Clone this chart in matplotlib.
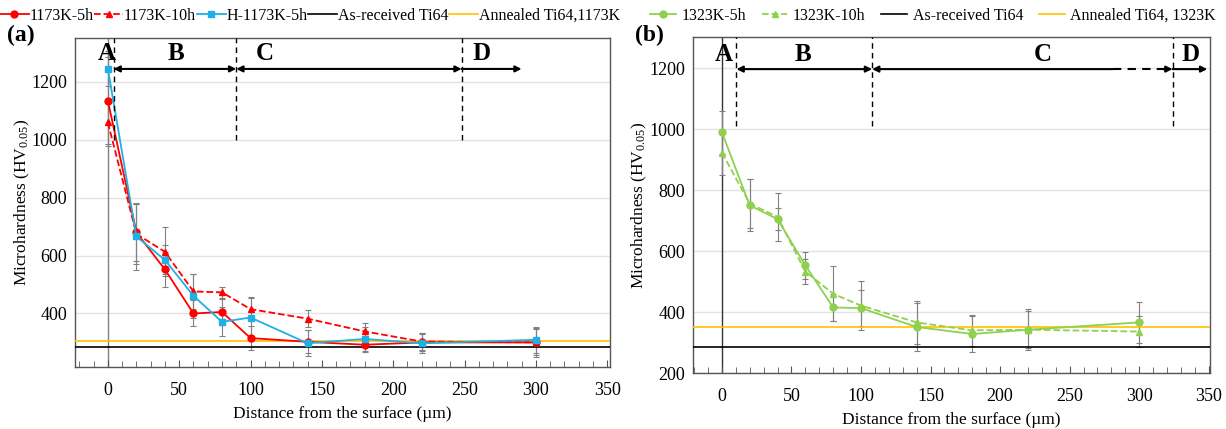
import matplotlib
matplotlib.use("Agg")
import matplotlib.pyplot as plt

plt.rcParams['font.family'] = ['Liberation Serif', 'DejaVu Serif']
plt.rcParams['mathtext.fontset'] = 'custom'
plt.rcParams['mathtext.rm'] = 'Liberation Serif'
plt.rcParams['mathtext.it'] = 'Liberation Serif:italic'

# ---------------- data ----------------
depth = [0, 20, 40, 60, 80, 100, 140, 180, 220, 300]

hv_1173_5h = [1135, 680, 552, 400, 405, 315, 302, 292, 300, 300]
hv_1173_10h = [1060, 675, 613, 476, 473, 415, 382, 338, 303, 300]
hv_h1173_5h = [1246, 666, 585, 461, 371, 386, 297, 312, 297, 309]
err_1173_5h = [150, 100, 60, 45, 45, 40, 40, 25, 30, 45]
err_1173_10h = [80, 105, 85, 60, 20, 40, 30, 30, 30, 50]
err_h1173_5h = [60, 115, 50, 75, 50, 70, 45, 40, 35, 45]

hv_1323_5h = [990, 750, 705, 553, 415, 413, 351, 328, 342, 366]
hv_1323_10h = [923, 756, 712, 533, 460, 421, 366, 340, 342, 336]
err_1323_5h = [70, 85, 35, 45, 45, 60, 80, 60, 68, 67]
err_1323_10h = [75, 80, 80, 40, 90, 80, 70, 50, 60, 50]

as_received = 285
annealed_1173 = 305
annealed_1323 = 350

x_ticks = [0, 50, 100, 150, 200, 250, 300, 350]

RED = '#FF0000'
BLUE = '#1FB0E6'
GREEN = '#8FD14F'
ORANGE = '#FFC000'
GRAY = '#808080'

fig = plt.figure(figsize=(12.26, 4.29), dpi=100)
axL = fig.add_axes([0.0612, 0.1445, 0.4364, 0.767])
axR = fig.add_axes([0.565, 0.1305, 0.422, 0.783])


def style(ax, ylim, yticks, xlim):
    ax.set_xlim(*xlim)
    ax.set_ylim(*ylim)
    ax.set_yticks(yticks)
    ax.set_xticks(x_ticks)
    ax.set_xticks(range(-20, 351, 10), minor=True)
    ax.tick_params(axis='y', length=0, labelsize=13, pad=5.5)
    ax.tick_params(axis='x', which='major', direction='in', length=5, labelsize=13, pad=11, color='#555555')
    ax.tick_params(axis='x', which='minor', direction='in', length=4, color='#555555')
    for t in yticks:
        ax.axhline(t, color='#E3E3E3', lw=1, zorder=0)
    for s in ax.spines.values():
        s.set_color('#555555')
        s.set_linewidth(1.0)
    ax.set_xlabel('Distance from the surface (\u00b5m)', fontsize=12.5, labelpad=5)
    ax.set_ylabel('Microhardness (HV$_{0.05}$)', fontsize=12.5, labelpad=0)


# ---------------- left panel ----------------
ax = axL
style(ax, (215, 1352), [400, 600, 800, 1000, 1200], (-23, 352))
ax.axvline(0, color=GRAY, lw=1, zorder=1)
for y, e in ((hv_1173_5h, err_1173_5h), (hv_1173_10h, err_1173_10h), (hv_h1173_5h, err_h1173_5h)):
    ax.errorbar(depth, y, yerr=e, fmt='none', ecolor=GRAY, elinewidth=0.8, capsize=2, capthick=0.8, zorder=2)
l1, = ax.plot(depth, hv_1173_5h, '-o', color=RED, lw=1.3, ms=5, zorder=4, label='1173K-5h')
l2, = ax.plot(depth, hv_1173_10h, '--^', color=RED, lw=1.3, ms=5, zorder=4, label='1173K-10h')
l3, = ax.plot(depth, hv_h1173_5h, '-s', color=BLUE, lw=1.3, ms=5, zorder=4, label='H-1173K-5h')
l4 = ax.axhline(as_received, color='black', lw=1.2, zorder=3, label='As-received Ti64')
l5 = ax.axhline(annealed_1173, color=ORANGE, lw=1.2, zorder=3, label='Annealed Ti64,1173K')

for xv in (4, 90, 248):
    ax.plot([xv, xv], [1000, 1352], color='black', lw=1, ls=(0, (4, 3)), zorder=5)
ya = 1245
ap = dict(arrowstyle='<|-|>', color='black', lw=1.5, mutation_scale=9, shrinkA=0, shrinkB=0)
ax.annotate('', xy=(90, ya), xytext=(4, ya), arrowprops=ap, zorder=6)
ax.annotate('', xy=(248, ya), xytext=(90, ya), arrowprops=ap, zorder=6)
ax.annotate('', xy=(290, ya), xytext=(248, ya),
            arrowprops=dict(arrowstyle='-|>', color='black', lw=1.5, mutation_scale=9, shrinkA=0, shrinkB=0), zorder=6)
for txt, xv in (('A', -1), ('B', 48), ('C', 110), ('D', 262)):
    ax.text(xv, 1300, txt, fontsize=18, fontweight='bold', ha='center', va='center', zorder=6)
fig.legend(handles=[l1, l2, l3, l4, l5], loc='center left', bbox_to_anchor=(0.0, 1 - 16 / 429), ncol=5,
           frameon=False, fontsize=11.5, handlelength=1.8, handletextpad=0.05, columnspacing=0.05,
           borderaxespad=0, borderpad=0)
fig.text(0.006, 1 - 35 / 429, '(a)', fontsize=17, fontweight='bold', ha='left', va='center')

# ---------------- right panel ----------------
ax = axR
style(ax, (200, 1302), [200, 400, 600, 800, 1000, 1200], (-21, 351))
ax.axvline(0, color='#333333', lw=1, zorder=1)
for y, e in ((hv_1323_5h, err_1323_5h), (hv_1323_10h, err_1323_10h)):
    ax.errorbar(depth, y, yerr=e, fmt='none', ecolor=GRAY, elinewidth=0.8, capsize=2, capthick=0.8, zorder=2)
g1, = ax.plot(depth, hv_1323_5h, '-o', color=GREEN, lw=1.3, ms=5, zorder=4, label='1323K-5h')
g2, = ax.plot(depth, hv_1323_10h, '--^', color=GREEN, lw=1.3, ms=5, zorder=4, label='1323K-10h')
g3 = ax.axhline(as_received, color='black', lw=1.2, zorder=3, label='As-received Ti64')
g4 = ax.axhline(annealed_1323, color=ORANGE, lw=1.2, zorder=3, label='Annealed Ti64, 1323K')

for xv in (10.5, 108, 324):
    ax.plot([xv, xv], [1012, 1302], color='black', lw=1, ls=(0, (4, 3)), zorder=5)
yb = 1197
ax.annotate('', xy=(108, yb), xytext=(10.5, yb), arrowprops=ap, zorder=6)
ax.annotate('', xy=(108, yb), xytext=(281, yb),
            arrowprops=dict(arrowstyle='-|>', color='black', lw=1.5, mutation_scale=9, shrinkA=0, shrinkB=0), zorder=6)
ax.plot([281, 318], [yb, yb], color='black', lw=1.5, ls=(0, (4, 3)), zorder=6)
ax.annotate('', xy=(324, yb), xytext=(317, yb),
            arrowprops=dict(arrowstyle='-|>', color='black', lw=1.5, mutation_scale=9, shrinkA=0, shrinkB=0), zorder=6)
ax.annotate('', xy=(349, yb), xytext=(324, yb),
            arrowprops=dict(arrowstyle='-|>', color='black', lw=1.5, mutation_scale=9, shrinkA=0, shrinkB=0), zorder=6)
for txt, xv in (('A', 1.5), ('B', 58), ('C', 231), ('D', 337)):
    ax.text(xv, 1246, txt, fontsize=18, fontweight='bold', ha='center', va='center', zorder=6)
fig.legend(handles=[g1, g2, g3, g4], loc='center left', bbox_to_anchor=(650 / 1226, 1 - 16 / 429), ncol=4,
           frameon=False, fontsize=11.5, handlelength=1.6, handletextpad=0.35, columnspacing=1.0,
           borderaxespad=0, borderpad=0)
fig.text(0.518, 1 - 35 / 429, '(b)', fontsize=17, fontweight='bold', ha='left', va='center')

fig.savefig('out.png', dpi=100)
